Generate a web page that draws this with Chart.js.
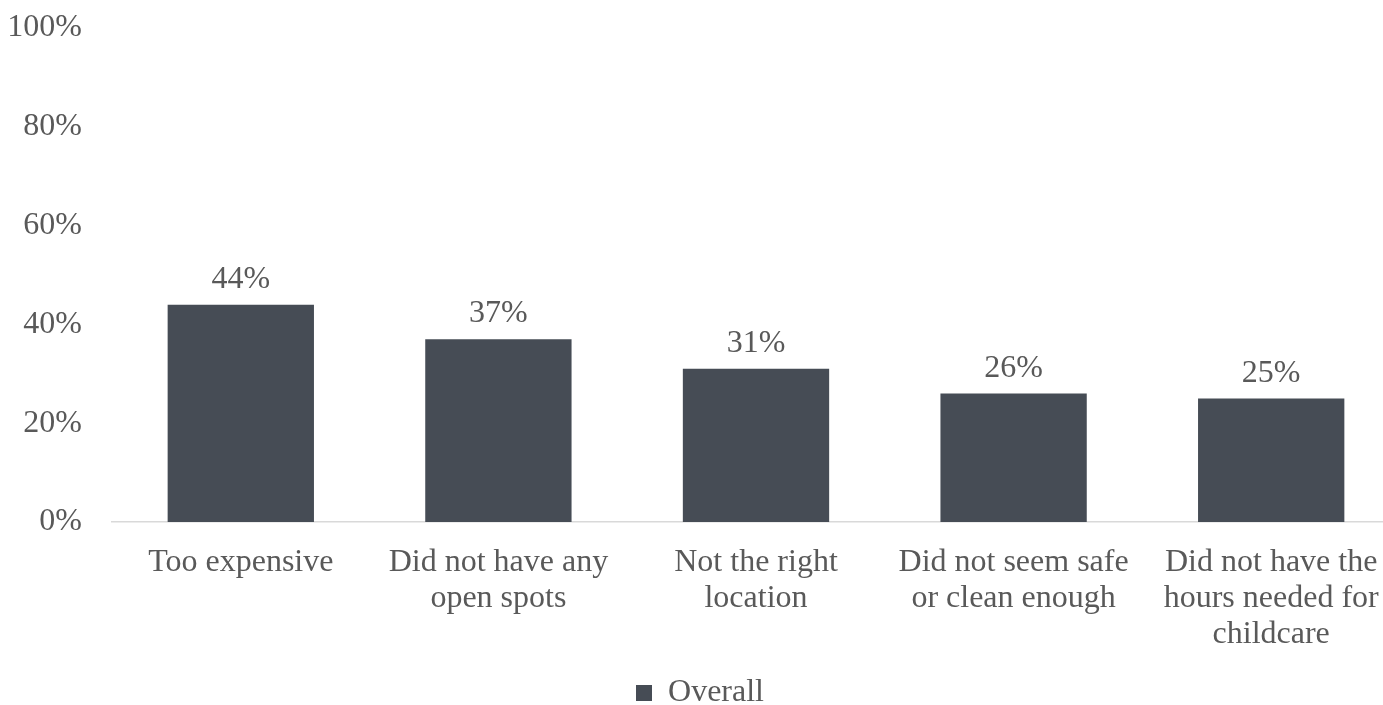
<!DOCTYPE html>
<html>
<head>
<meta charset="utf-8">
<script src="https://cdn.jsdelivr.net/npm/chart.js@4"></script>
<style>
    html, body { margin: 0; padding: 0; background: #ffffff; overflow: hidden; }
    #wrap { width: 1400px; height: 705px; }
</style>
</head>
<body>
<div id="wrap"><canvas id="barChart"></canvas></div>
<script>
// --- Data ---
const categories = [
    'Too expensive',
    ['Did not have any', 'open spots'],
    ['Not the right', 'location'],
    ['Did not seem safe', 'or clean enough'],
    ['Did not have the', 'hours needed for', 'childcare']
];
const overall = [44, 37, 31, 26, 25];
const yTicks = [0, 20, 40, 60, 80, 100];

const barColor = '#464c55';
const textColor = '#595959';
const fontFamily = '"Liberation Serif", "Times New Roman", serif';
const fontSize = 32;

// value labels above each bar
const valueLabels = {
    id: 'valueLabels',
    afterDatasetsDraw(chart) {
        const ctx = chart.ctx;
        ctx.save();
        ctx.font = fontSize + 'px ' + fontFamily;
        ctx.fillStyle = textColor;
        ctx.textAlign = 'center';
        ctx.textBaseline = 'alphabetic';
        chart.getDatasetMeta(0).data.forEach((bar, i) => {
            ctx.fillText(overall[i] + '%', bar.x, bar.y - 17);
        });
        ctx.restore();
    }
};

new Chart(document.getElementById('barChart'), {
    type: 'bar',
    data: {
        labels: categories,
        datasets: [{
            label: 'Overall',
            data: overall,
            backgroundColor: barColor,
            borderWidth: 0,
            categoryPercentage: 1,
            barPercentage: 0.568
        }]
    },
    options: {
        responsive: true,
        maintainAspectRatio: false,
        animation: false,
        // legend sits lower than chart.js would place it
        layout: { padding: { top: 28, left: 0, right: 0, bottom: -14 } },
        plugins: {
            tooltip: { enabled: false },
            legend: {
                position: 'bottom',
                labels: {
                    boxWidth: 16,
                    boxHeight: 16,
                    padding: 0,
                    color: textColor,
                    font: { family: fontFamily, size: fontSize, lineHeight: 1 }
                }
            }
        },
        scales: {
            x: {
                grid: { display: false },
                border: { color: '#d9d9d9', width: 1.5 },
                afterFit: scale => { scale.height += 9; },
                ticks: {
                    color: textColor,
                    padding: 15,
                    maxRotation: 0,
                    autoSkip: false,
                    font: { family: fontFamily, size: fontSize, lineHeight: 1.125 }
                }
            },
            y: {
                min: 0,
                max: 100,
                afterBuildTicks: scale => { scale.ticks = yTicks.map(v => ({ value: v })); },
                afterFit: scale => {
                    scale.width = 112;
                    scale.paddingTop = 0;
                    scale.paddingBottom = 0;
                },
                grid: { display: false },
                border: { display: false },
                ticks: {
                    color: textColor,
                    padding: 22,
                    font: { family: fontFamily, size: fontSize },
                    callback: v => v + '%'
                }
            }
        }
    },
    plugins: [valueLabels]
});
</script>
</body>
</html>
